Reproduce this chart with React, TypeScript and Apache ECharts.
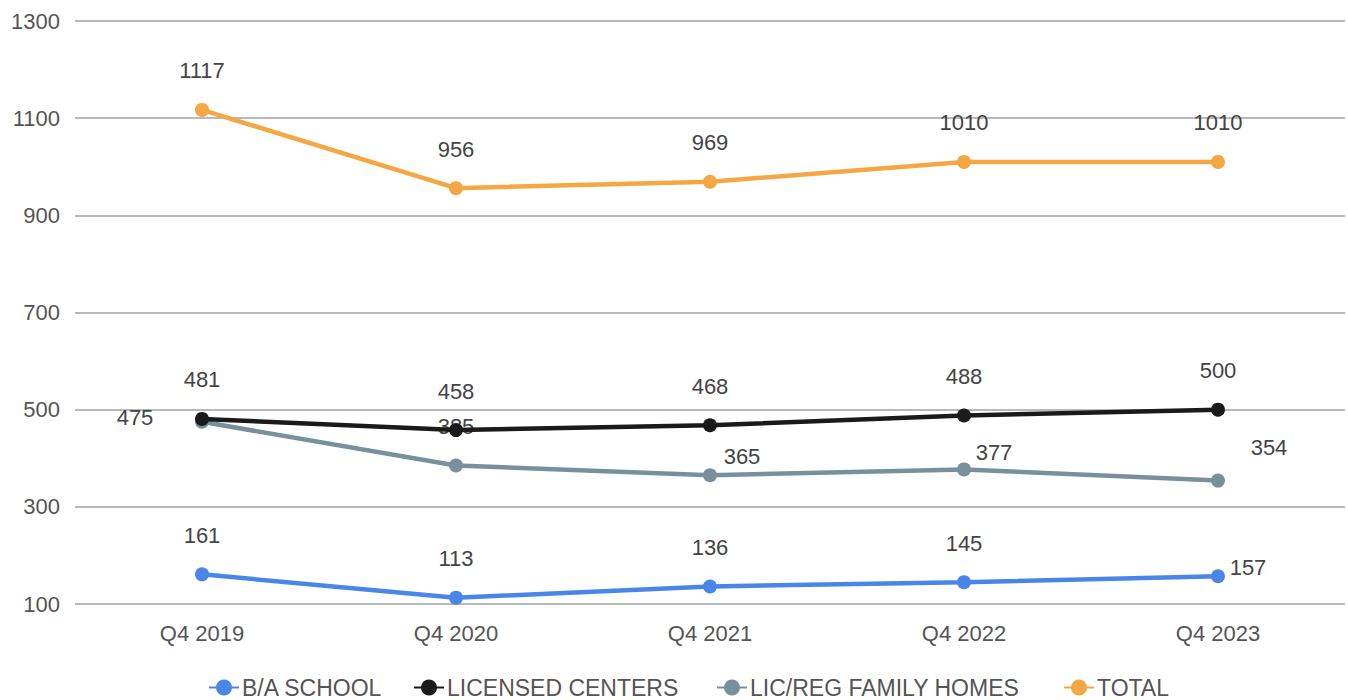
import React, { useEffect, useRef } from "react";
import * as echarts from "echarts";

const categories = ["Q4 2019", "Q4 2020", "Q4 2021", "Q4 2022", "Q4 2023"];
const baSchool = [161, 113, 136, 145, 157];
const licensedCenters = [481, 458, 468, 488, 500];
const familyHomes = [475, 385, 365, 377, 354];
const total = [1117, 956, 969, 1010, 1010];
const seriesNames = ["B/A SCHOOL", "LICENSED CENTERS", "LIC/REG FAMILY HOMES", "TOTAL"];
const colors = ["#4a86e8", "#1a1a1a", "#78909c", "#f4a742"];

const FONT = "'Liberation Sans', Arial, sans-serif";
const LABEL_COLOR = "#444444";

// label offsets for a few points whose labels sit beside the marker
const specialLabels: Record<string, Record<number, number[]>> = {
  "B/A SCHOOL": { 4: [30, -9] },
  "LIC/REG FAMILY HOMES": { 0: [-67, -4], 2: [32, -19], 3: [30, -17], 4: [51, -33] },
};

// left edge of each legend entry
const legendLefts = [208, 413, 716, 1063];

export default function App() {
  const ref = useRef<HTMLDivElement>(null);
  useEffect(() => {
    if (!ref.current) return;
    const chart = echarts.init(ref.current, undefined, { renderer: "svg" });
    const dataSets = [baSchool, licensedCenters, familyHomes, total];
    const series = seriesNames.map((name, si) => ({
      name,
      type: "line",
      data: dataSets[si].map((v, i) => {
        const off = specialLabels[name]?.[i];
        if (off) {
          return { value: v, label: { position: "inside", distance: 0, offset: off } };
        }
        return v;
      }),
      symbol: "circle",
      symbolSize: 14,
      z: si === 1 ? 4 : 3,
      itemStyle: { color: colors[si] },
      lineStyle: { color: colors[si], width: 4.5 },
      label: {
        show: true,
        position: "top",
        distance: 21,
        color: LABEL_COLOR,
        fontSize: 22,
        fontFamily: FONT,
      },
    }));
    const legends = seriesNames.map((name, i) => ({
      data: [name],
      left: legendLefts[i],
      top: 676,
      padding: 0,
      itemWidth: 30,
      itemHeight: 20,
      textStyle: {
        color: "#555555",
        fontSize: 23,
        lineHeight: 22,
        fontFamily: FONT,
        padding: [0, 0, 0, -2],
      },
    }));
    chart.setOption({
      animation: false,
      backgroundColor: "#ffffff",
      grid: { left: 75, right: 3, top: 21, bottom: 96, containLabel: false },
      legend: legends,
      xAxis: {
        type: "category",
        data: categories,
        boundaryGap: true,
        axisLine: { show: false },
        axisTick: { show: false },
        axisLabel: { color: "#555555", fontSize: 22, fontFamily: FONT, margin: 18 },
        splitLine: { show: false },
      },
      yAxis: {
        type: "value",
        min: 100,
        max: 1300,
        interval: 200,
        axisLine: { show: false },
        axisTick: { show: false },
        axisLabel: {
          color: "#555555",
          fontSize: 22,
          fontFamily: FONT,
          margin: 15,
          formatter: (v: number) => String(v),
        },
        splitLine: { lineStyle: { color: "#b9b9b9", width: 2 } },
      },
      series,
    });
    return () => chart.dispose();
  }, []);
  return <div ref={ref} style={{ width: 1348, height: 700, position: "absolute", left: 0, top: 0 }} />;
}
